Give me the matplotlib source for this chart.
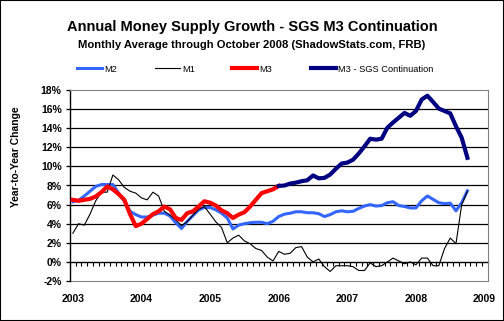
import numpy as np
import matplotlib
matplotlib.use("Agg")
import matplotlib.pyplot as plt
from matplotlib.lines import Line2D
from matplotlib.patches import Rectangle
from matplotlib.ticker import FuncFormatter

# ---- data (monthly, Jan 2003 .. Oct 2008) ----
start_year = 2003
n_months = 70
months = start_year + np.arange(n_months) / 12.0

m2 = [6.3, 6.45, 6.9, 7.4, 7.9, 8.1, 8.1, 8.1, 7.2, 6.35,
      5.3, 4.95, 4.7, 4.7, 4.9, 5.1, 5.1, 4.8, 4.1, 3.5,
      4.25, 4.85, 5.45, 5.7, 5.7, 5.45, 5.1, 4.6, 3.45, 3.85,
      4.0, 4.1, 4.15, 4.15, 4.0, 4.25, 4.75, 5.0, 5.1, 5.25,
      5.25, 5.15, 5.15, 5.05, 4.75, 4.95, 5.25, 5.35, 5.25, 5.3,
      5.6, 5.85, 6.0, 5.85, 5.9, 6.2, 6.3, 5.9, 5.8, 5.65,
      5.65, 6.4, 6.9, 6.55, 6.2, 6.1, 6.15, 5.35, 6.2, 7.45]

m1 = [3.0, 4.0, 3.85, 5.0, 6.4, 7.3, 7.3, 9.1, 8.6, 7.8,
      7.4, 7.2, 6.7, 6.5, 7.3, 6.9, 5.3, 4.9, 4.4, 3.8,
      4.2, 4.9, 5.5, 5.8, 5.0, 4.2, 3.6, 2.0, 2.5, 2.8,
      2.2, 1.9, 1.4, 1.2, 0.5, 0.1, 1.1, 0.8, 0.9, 1.5,
      1.6, 0.5, 0.0, 0.3, -0.5, -1.0, -0.4, -0.4, -0.4, -0.5,
      -0.9, -0.9, -0.1, -0.5, -0.4, 0.0, 0.4, 0.1, -0.2, 0.0,
      -0.3, 0.4, 0.4, -0.4, -0.4, 1.4, 2.5, 1.9, 6.0, 7.4]

m3 = [6.5, 6.4, 6.5, 6.6, 6.85, 7.3, 7.9, 7.6, 7.1, 6.5,
      5.0, 3.75, 4.0, 4.5, 5.0, 5.3, 5.8, 5.5, 4.6, 4.4,
      5.1, 5.3, 5.8, 6.35, 6.2, 5.9, 5.4, 5.1, 4.6, 4.95,
      5.2, 5.8, 6.5, 7.2, 7.4, 7.6, 7.95]

sgs = [7.95, 8.0, 8.2, 8.3, 8.45, 8.55, 9.05, 8.75, 8.8, 9.15,
       9.75, 10.3, 10.4, 10.7, 11.35, 12.1, 12.9, 12.8, 12.9, 14.05,
       14.6, 15.1, 15.6, 15.3, 15.8, 17.0, 17.4, 16.75, 16.05, 15.8,
       15.55, 14.2, 13.0, 10.9]
sgs_start = 36

year_ticks = list(range(2003, 2010))
y_ticks = list(range(-2, 19, 2))

labels = ["M2", "M1", "M3", "M3 - SGS Continuation"]
colors = ["#3366FF", "#000000", "#FF0000", "#000080"]
widths = [2.2, 0.8, 3.0, 3.0]

# ---- figure ----
W, H = 504, 321
fig = plt.figure(figsize=(W / 100, H / 100), dpi=100)
fig.patch.set_facecolor("white")
fig.patches.append(Rectangle((0, 0), 1, 1, transform=fig.transFigure,
                             fill=False, edgecolor="black", linewidth=1.5))

L, R, T, B = 70, 488, 90, 281
ax = fig.add_axes([L / W, 1 - B / H, (R - L) / W, (B - T) / H])

FONT = "Liberation Sans"

ax.plot(months, m2, color=colors[0], lw=widths[0], solid_joinstyle="round", zorder=3)
ax.plot(months, m1, color=colors[1], lw=widths[1], zorder=4)
ax.plot(months[:len(m3)], m3, color=colors[2], lw=widths[2], solid_joinstyle="round", zorder=5)
ax.plot(months[sgs_start:sgs_start + len(sgs)], sgs, color=colors[3], lw=widths[3],
        solid_joinstyle="round", zorder=6)

ax.set_ylim(-2, 18)
ax.set_xlim(start_year - 0.35 / 12, start_year + 72.6 / 12)

# gridlines
for v in y_ticks:
    if -2 < v < 18 and v != 0:
        ax.axhline(v, color="black", lw=0.9, zorder=1)

# spines
ax.spines["left"].set_color("black")
ax.spines["left"].set_linewidth(1.0)
ax.spines["top"].set_color("#808080")
ax.spines["right"].set_color("#808080")
ax.spines["bottom"].set_position(("data", 0))
ax.spines["bottom"].set_color("black")
ax.spines["bottom"].set_linewidth(1.0)
ax.spines["bottom"].set_zorder(2)

ax.set_yticks(y_ticks)
ax.yaxis.set_major_formatter(FuncFormatter(lambda v, p: f"{int(v)}%"))
ax.tick_params(axis="y", length=3, width=0.9, direction="out", pad=3,
               labelsize=7.5)
for t in ax.get_yticklabels():
    t.set_fontweight("bold")
    t.set_fontfamily(FONT)

# ticks along the zero line (monthly)
ax.set_xticks(start_year + (np.arange(0, 73) - 0.5) / 12.0)
ax.tick_params(axis="x", length=3, width=0.8, direction="out", labelbottom=False)

# bottom border + year labels
sec = ax.secondary_xaxis("bottom")
sec.spines["bottom"].set_color("#808080")
sec.set_xticks(year_ticks)
sec.set_xticklabels([str(y) for y in year_ticks], fontweight="bold",
                    fontfamily=FONT, fontsize=7.5)
sec.tick_params(axis="x", length=0, pad=9)

ax.set_ylabel("Year-to-Year Change", fontsize=7.4, fontweight="bold",
              fontfamily=FONT)
ax.yaxis.set_label_coords(-(70 - 21) / (R - L), 1 - (157 - T) / (B - T))

# titles
fig.text(0.5, 1 - 27 / H, "Annual Money Supply Growth - SGS M3 Continuation",
         ha="center", va="center", fontsize=10.5, fontweight="bold", fontfamily=FONT)
fig.text(0.5, 1 - 45 / H, "Monthly Average through October 2008 (ShadowStats.com, FRB)",
         ha="center", va="center", fontsize=8.1, fontweight="bold", fontfamily=FONT)

# legend entries
leg_x = [77, 155, 232, 311]
for lab, col, lw, lx in zip(labels, colors, widths, leg_x):
    h = Line2D([], [], color=col, lw=lw)
    fig.legend(handles=[h], labels=[lab], loc="center left",
               bbox_to_anchor=(lx / W, 1 - 69 / H), frameon=False,
               borderpad=0, borderaxespad=0, handlelength=2.7,
               handletextpad=0.2, prop={"family": FONT, "size": 6.7})

fig.savefig("out.png", dpi=100, facecolor="white")
